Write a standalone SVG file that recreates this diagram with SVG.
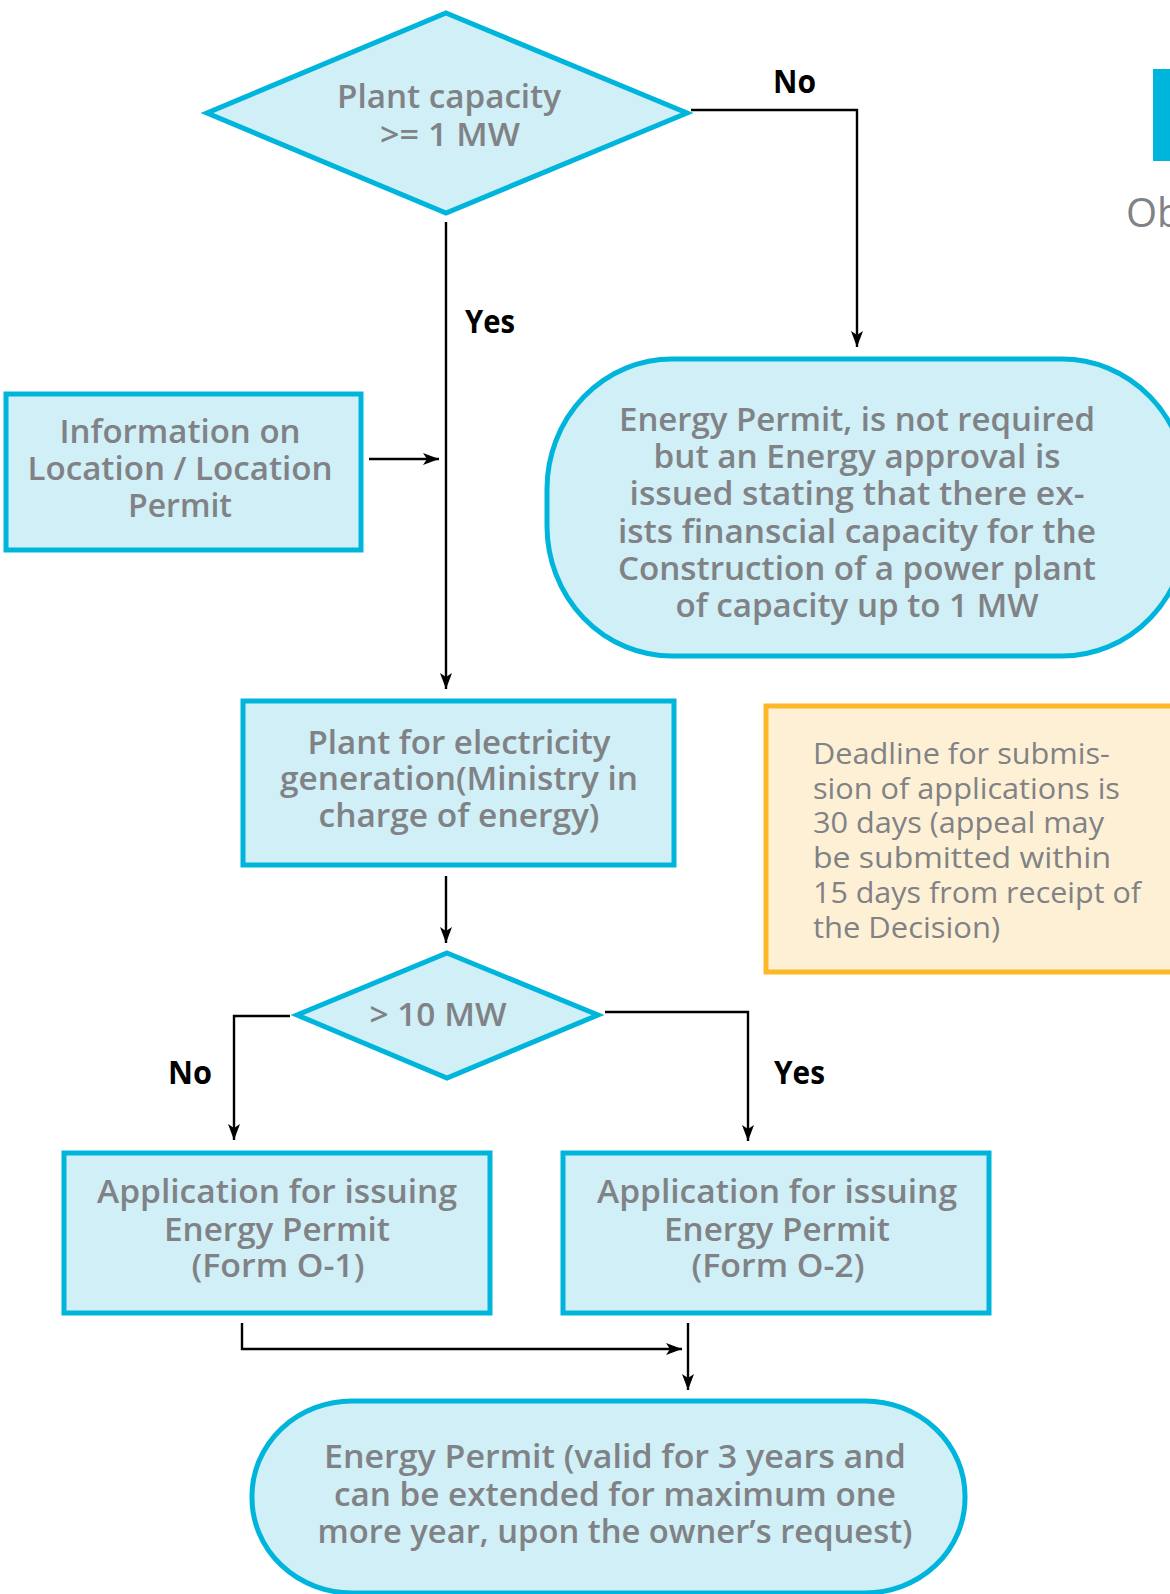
<svg xmlns="http://www.w3.org/2000/svg" width="1170" height="1594" viewBox="0 0 1170 1594">
<style>
.node{fill:#D0EFF7;stroke:#00B5DB;stroke-width:5}
.note{fill:#FEF0D5;stroke:#FDB827;stroke-width:5}
.t{font-family:"Open Sans","Liberation Sans",sans-serif;font-weight:600;font-size:33px;fill:#808285;text-anchor:middle}
.n{font-family:"Open Sans","Liberation Sans",sans-serif;font-weight:400;font-size:29px;fill:#808285}
.lbl{font-family:"Open Sans","Liberation Sans",sans-serif;font-weight:700;font-size:32px;fill:#000}
.c{fill:none;stroke:#000;stroke-width:2.4;marker-end:url(#ah)}
</style>
<defs>
<marker id="ah" markerUnits="userSpaceOnUse" markerWidth="18" markerHeight="14" refX="16" refY="6" orient="auto">
<path d="M0,0 L16,6 L0,12 L4,6 z" fill="#000"/>
</marker>
</defs>
<rect width="1170" height="1594" fill="#fff"/>
<g id="decor">
<rect x="1153" y="69" width="17" height="92" fill="#00B5DB"/>
<text x="1126" y="227" style="font-family:'Open Sans','Liberation Sans',sans-serif;font-size:40px;fill:#808285">Ob</text>
</g>
<g id="connectors">
<path class="c" d="M691,110 H857 V347"/>
<path class="c" d="M446,222 V689"/>
<path class="c" d="M369,459 H439"/>
<path class="c" d="M446,876 V943"/>
<path class="c" d="M290,1016 H234 V1140"/>
<path class="c" d="M605,1012 H748 V1141"/>
<path class="c" d="M242,1323 V1349 H682"/>
<path class="c" d="M688,1323 V1390"/>
<text class="lbl" x="773" y="93" textLength="43" lengthAdjust="spacingAndGlyphs">No</text>
<text class="lbl" x="465" y="333" textLength="50" lengthAdjust="spacingAndGlyphs">Yes</text>
<text class="lbl" x="168" y="1084" textLength="44" lengthAdjust="spacingAndGlyphs">No</text>
<text class="lbl" x="774" y="1084" textLength="51" lengthAdjust="spacingAndGlyphs">Yes</text>
</g>
<g id="d1">
<polygon class="node" points="446,13 687,113 446,213 207,113"/>
<text class="t" x="449" y="108" textLength="224" lengthAdjust="spacingAndGlyphs">Plant capacity</text>
<text class="t" x="450" y="146" textLength="140" lengthAdjust="spacingAndGlyphs">&gt;= 1 MW</text>
</g>
<g id="info">
<rect class="node" x="6" y="394" width="355" height="156"/>
<text class="t" x="180" y="443" textLength="241" lengthAdjust="spacingAndGlyphs">Information on</text>
<text class="t" x="180" y="480" textLength="305" lengthAdjust="spacingAndGlyphs">Location / Location</text>
<text class="t" x="180" y="517" textLength="104" lengthAdjust="spacingAndGlyphs">Permit</text>
</g>
<g id="notreq">
<rect class="node" x="547" y="359" width="640" height="297" rx="125" ry="130"/>
<text class="t" x="857" y="431" textLength="476" lengthAdjust="spacingAndGlyphs">Energy Permit, is not required</text>
<text class="t" x="857" y="468" textLength="407" lengthAdjust="spacingAndGlyphs">but an Energy approval is</text>
<text class="t" x="857" y="505" textLength="455" lengthAdjust="spacingAndGlyphs">issued stating that  there ex-</text>
<text class="t" x="857" y="543" textLength="478" lengthAdjust="spacingAndGlyphs">ists finanscial capacity  for the</text>
<text class="t" x="857" y="580" textLength="478" lengthAdjust="spacingAndGlyphs">Construction of a power plant</text>
<text class="t" x="857" y="617" textLength="363" lengthAdjust="spacingAndGlyphs">of capacity up to 1 MW</text>
</g>
<g id="plant">
<rect class="node" x="243" y="701" width="431" height="164"/>
<text class="t" x="459" y="754" textLength="303" lengthAdjust="spacingAndGlyphs">Plant for electricity</text>
<text class="t" x="459" y="790" textLength="358" lengthAdjust="spacingAndGlyphs">generation(Ministry in</text>
<text class="t" x="459" y="827" textLength="281" lengthAdjust="spacingAndGlyphs">charge of energy)</text>
</g>
<g id="deadline">
<rect class="note" x="766" y="706" width="420" height="266"/>
<text class="n" x="813" y="764" textLength="297" lengthAdjust="spacingAndGlyphs">Deadline for submis-</text>
<text class="n" x="813" y="799" textLength="307" lengthAdjust="spacingAndGlyphs">sion of applications is</text>
<text class="n" x="813" y="833" textLength="291" lengthAdjust="spacingAndGlyphs">30 days (appeal may</text>
<text class="n" x="813" y="868" textLength="298" lengthAdjust="spacingAndGlyphs">be submitted  within</text>
<text class="n" x="813" y="903" textLength="328" lengthAdjust="spacingAndGlyphs">15 days from receipt of</text>
<text class="n" x="813" y="938" textLength="187" lengthAdjust="spacingAndGlyphs">the Decision)</text>
</g>
<g id="d2">
<polygon class="node" points="447,953 598,1015 447,1078 297,1015"/>
<text class="t" x="438" y="1026" textLength="137" lengthAdjust="spacingAndGlyphs">&gt; 10 MW</text>
</g>
<g id="o1">
<rect class="node" x="64" y="1153" width="426" height="160"/>
<text class="t" x="277" y="1203" textLength="360" lengthAdjust="spacingAndGlyphs">Application for issuing</text>
<text class="t" x="277" y="1241" textLength="226" lengthAdjust="spacingAndGlyphs">Energy Permit</text>
<text class="t" x="278" y="1277" textLength="173" lengthAdjust="spacingAndGlyphs">(Form O-1)</text>
</g>
<g id="o2">
<rect class="node" x="563" y="1153" width="426" height="160"/>
<text class="t" x="777" y="1203" textLength="360" lengthAdjust="spacingAndGlyphs">Application for issuing</text>
<text class="t" x="777" y="1241" textLength="226" lengthAdjust="spacingAndGlyphs">Energy Permit</text>
<text class="t" x="778" y="1277" textLength="173" lengthAdjust="spacingAndGlyphs">(Form O-2)</text>
</g>
<g id="final">
<rect class="node" x="252" y="1401" width="713" height="192" rx="100" ry="95"/>
<text class="t" x="615" y="1468" textLength="582" lengthAdjust="spacingAndGlyphs">Energy Permit  (valid for  3 years and</text>
<text class="t" x="615" y="1506" textLength="562" lengthAdjust="spacingAndGlyphs">can be extended for maximum one</text>
<text class="t" x="615" y="1543" textLength="595" lengthAdjust="spacingAndGlyphs">more year, upon the owner’s request)</text>
</g>
</svg>
